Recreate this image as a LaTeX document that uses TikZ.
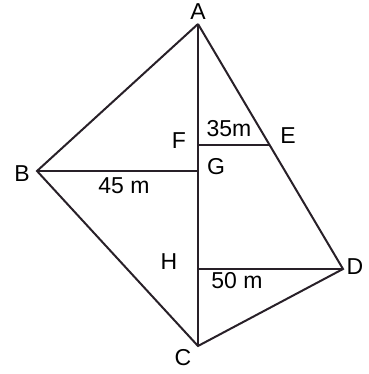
\documentclass[tikz,border=0pt]{standalone}
\usepackage{fontspec}
\setmainfont{Liberation Sans}
\definecolor{edgegray}{RGB}{40, 32, 40}

\begin{document}
\begin{tikzpicture}[x=1pt, y=-1pt, line width=2pt,
    lbl/.style={font=\fontsize{23}{23}\selectfont, inner sep=0pt}]
						\useasboundingbox (0,0) rectangle (368,374);
						% corners
						\coordinate (A) at (198,24);
						\coordinate (B) at (37,171);
						\coordinate (C) at (198,346);
						\coordinate (D) at (343,269);
						\coordinate (F) at (198,145);
						\coordinate (E) at (269,145);
						\coordinate (G) at (198,171);
						\coordinate (H) at (198,269);
						\draw[edgegray] (A) -- (B) -- (C) -- (D) -- (A);
						\draw[edgegray, line width=1.6pt] (A) -- (C);
						\draw[edgegray, line width=1.6pt] (B) -- (G);
						\draw[edgegray, line width=1.6pt] (F) -- (E);
						\draw[edgegray, line width=1.6pt] (H) -- (D);
						% labels
						\node[lbl] (lA) at (198,12) {A};
						\node[lbl] (lB) at (22,174) {B};
						\node[lbl] (lC) at (183,358) {C};
						\node[lbl] (lD) at (355,267) {D};
						\node[lbl] (lE) at (288,136) {E};
						\node[lbl] (lF) at (179,141) {F};
						\node[lbl] (lG) at (216,167) {G};
						\node[lbl] (lH) at (169,262) {H};
						\node[lbl] (l35) at (229,129) {35m};
						\node[lbl] (l45) at (124,186) {45 m};
						\node[lbl] (l50) at (237,281) {50 m};
					\end{tikzpicture}
\end{document}
